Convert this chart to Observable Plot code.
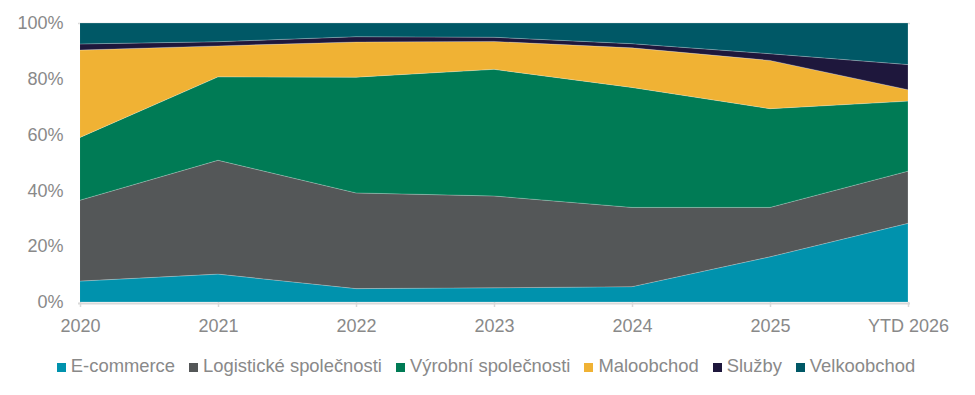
<!DOCTYPE html>
<html><head><meta charset="utf-8">
<script src="https://cdn.jsdelivr.net/npm/d3@7"></script>
<script src="https://cdn.jsdelivr.net/npm/@observablehq/plot@0.6"></script>
<style>
body{margin:0;background:#fff;font-family:"Liberation Sans",Arial,sans-serif;}
#legend{display:flex;justify-content:center;padding-top:11px;padding-left:11px;font-size:18.4px;line-height:20px;color:#898989;white-space:nowrap;}
.item{display:flex;align-items:baseline;margin-right:14px}
.sw{width:9px;height:9px;display:inline-block;margin-right:5px}
</style></head><body><div id="chart"></div><div id="legend"></div>
<script>
const years = ["2020","2021","2022","2023","2024","2025","YTD 2026"];
const categories = ["E-commerce","Logistické společnosti","Výrobní společnosti","Maloobchod","Služby","Velkoobchod"];
const colors = ["#0092ad","#545758","#007b55","#f0b234","#1e173c","#005866"];
const eCommerce   = [7.5, 10.0, 4.8, 5.1, 5.5, 16.2, 28.2];
const logistika   = [29.0, 40.8, 34.3, 32.9, 28.4, 17.7, 18.7];
const vyroba      = [22.5, 29.9, 41.5, 45.4, 43.0, 35.4, 25.1];
const maloobchod  = [31.3, 11.1, 12.6, 10.0, 14.2, 17.3, 4.1];
const sluzby      = [2.2, 1.5, 1.9, 1.5, 1.5, 2.4, 9.0];
const velkoobchod = [7.5, 6.7, 4.9, 5.1, 7.4, 11.0, 14.9];
const series = [eCommerce, logistika, vyroba, maloobchod, sluzby, velkoobchod];

const data = [];
categories.forEach((c, i) => years.forEach((y, j) => data.push({year: y, category: c, value: series[i][j]})));

const chart = Plot.plot({
  width: 975, height: 345,
  marginLeft: 78, marginRight: 65, marginTop: 23, marginBottom: 43,
  style: {fontFamily: "Liberation Sans, Arial, sans-serif", fontSize: "18px", color: "#898989", background: "white"},
  x: {type: "point", domain: years, padding: 0, label: null},
  y: {domain: [0, 1], label: null},
  color: {domain: categories, range: colors},
  marks: [
    Plot.ruleY([1], {stroke: "#d9d9d9", strokeWidth: 1.5}),
    Plot.areaY(data, {x: "year", y: "value", fill: "category", z: "category", order: categories, offset: "normalize",
      stroke: "white", strokeOpacity: 0.3, strokeWidth: 0.7}),
    Plot.ruleY([0], {stroke: "#d9d9d9", strokeWidth: 2, dy: 1}),
    Plot.axisX({tickSize: 5, tickPadding: 12, stroke: "#d9d9d9", strokeWidth: 1.5, fill: "#898989"}),
    Plot.axisY({ticks: [0, 0.2, 0.4, 0.6, 0.8, 1], tickFormat: d3.format(".0%"), tickSize: 0, tickPadding: 15, fill: "#898989"})
  ]
});
document.getElementById("chart").appendChild(chart);

const legend = document.getElementById("legend");
categories.forEach((c, i) => {
  const it = document.createElement("span"); it.className = "item";
  const sw = document.createElement("span"); sw.className = "sw"; sw.style.background = colors[i];
  const t = document.createElement("span"); t.textContent = c;
  it.appendChild(sw); it.appendChild(t); legend.appendChild(it);
});
</script></body></html>
